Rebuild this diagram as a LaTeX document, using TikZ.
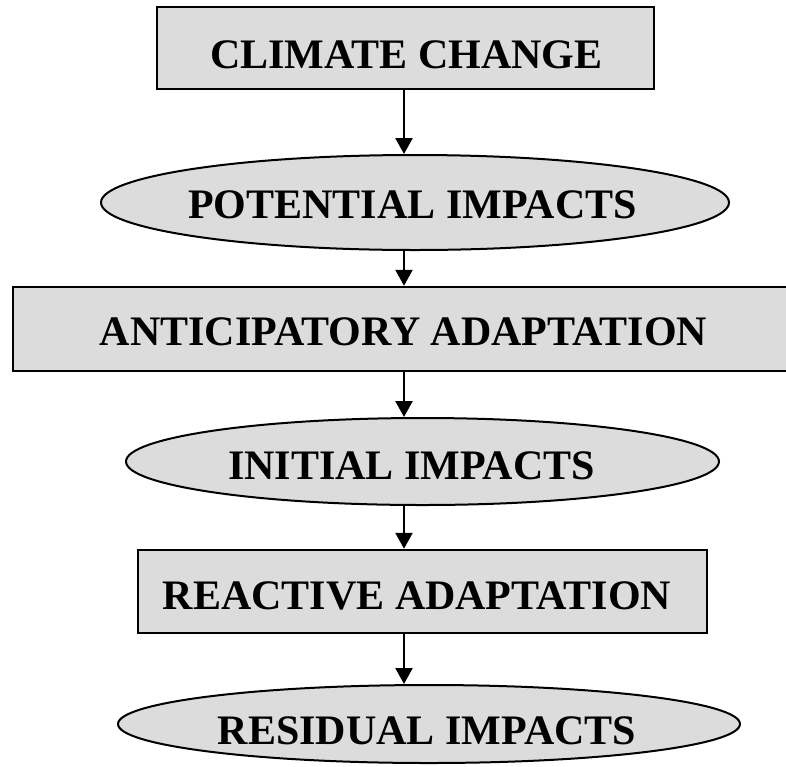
\documentclass[tikz,border=0pt]{standalone}
\usepackage{fontspec}
\setmainfont{Liberation Serif}
\usetikzlibrary{shapes.geometric,arrows.meta}
\definecolor{boxgray}{HTML}{DCDCDC}
\begin{document}
\begin{tikzpicture}[x=1pt,y=-1pt,
  box/.style={draw=black, line width=2.5pt, fill=boxgray, rectangle, inner sep=0pt},
  ell/.style={draw=black, line width=2pt, fill=boxgray, ellipse, inner sep=0pt},
  lbl/.style={font=\fontsize{42}{50}\selectfont\bfseries, inner sep=0pt},
  arr/.style={line width=2.5pt, -{Triangle[length=16pt,width=17pt]}}]
\path[use as bounding box, clip] (0,0) rectangle (786,766);
\node[box, minimum width=497pt, minimum height=82pt] (b1) at (405.5,48) {};
\node[ell, minimum width=628pt, minimum height=95pt] (e1) at (415,202.5) {};
\node[box, minimum width=780pt, minimum height=84pt] (b2) at (403,329) {};
\node[ell, minimum width=593pt, minimum height=87pt] (e2) at (422.5,461.5) {};
\node[box, minimum width=569pt, minimum height=83pt] (b3) at (422.5,591.5) {};
\node[ell, minimum width=622pt, minimum height=78pt] (e3) at (429,724) {};
\node[lbl] (t1) at (406.5,54.5) {CLIMATE CHANGE};
\node[lbl] (t2) at (412.5,205) {POTENTIAL IMPACTS};
\node[lbl] (t3) at (403.5,332) {ANTICIPATORY ADAPTATION};
\node[lbl] (t4) at (411.5,466) {INITIAL IMPACTS};
\node[lbl] (t5) at (417,596) {REACTIVE ADAPTATION};
\node[lbl] (t6) at (427,731) {RESIDUAL IMPACTS};
\coordinate (ax) at (404,0);
\draw[arr] (b1.south -| ax) -- (e1.north -| ax);
\draw[arr] (e1.south -| ax) -- (b2.north -| ax);
\draw[arr] (b2.south -| ax) -- (e2.north -| ax);
\draw[arr] (e2.south -| ax) -- (b3.north -| ax);
\draw[arr] (b3.south -| ax) -- (e3.north -| ax);
\end{tikzpicture}
\end{document}
